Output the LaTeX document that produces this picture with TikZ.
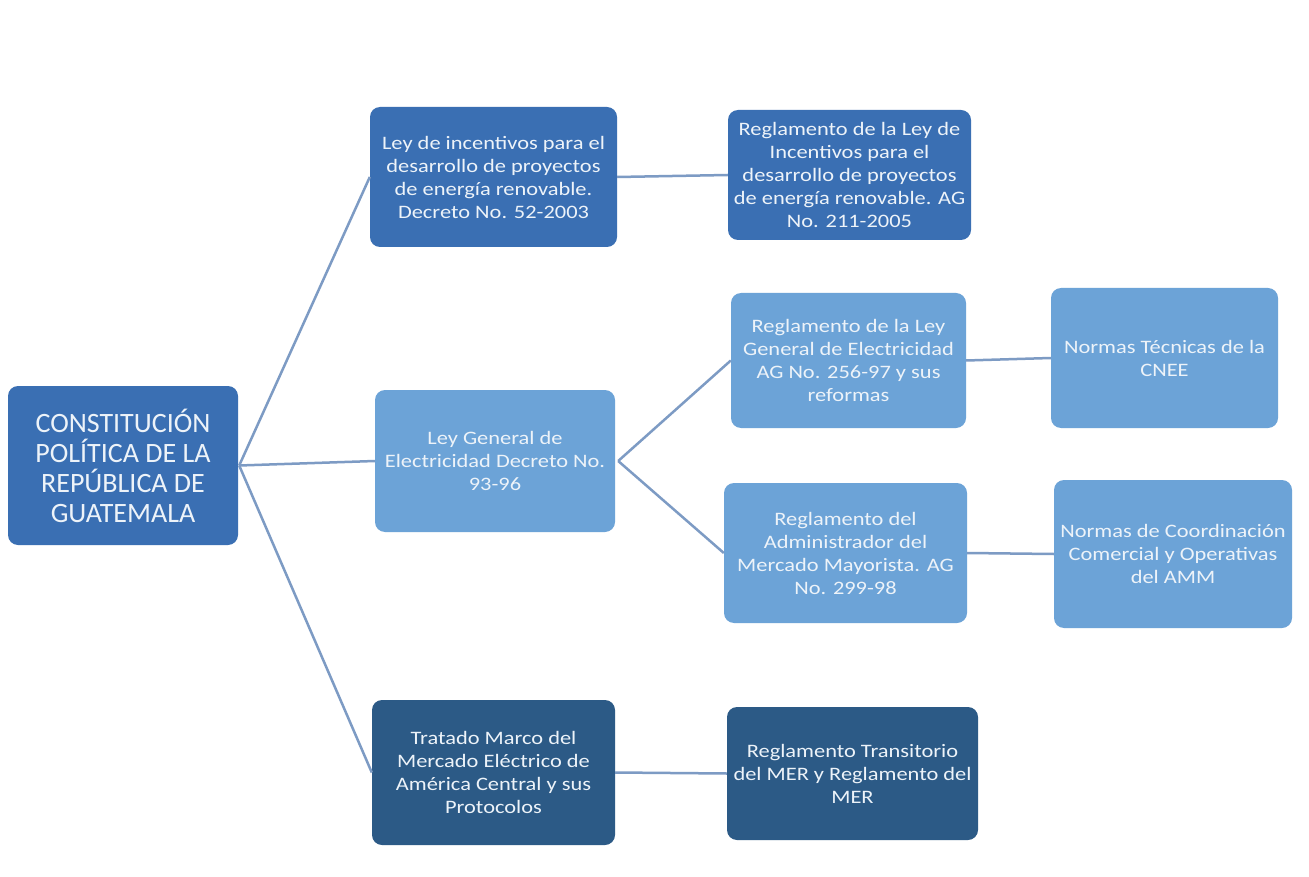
\documentclass[tikz,border=0pt]{standalone}
\usepackage{fontspec}
\setmainfont{Carlito}
\newfontfamily\boxfont[FakeStretch=1.18]{Carlito}
\definecolor{midblue}{HTML}{3A6FB3}
\definecolor{lightblue}{HTML}{6CA3D7}
\definecolor{darkblue}{HTML}{2C5A86}
\definecolor{linecol}{HTML}{7D9BC4}
\definecolor{txt}{HTML}{EDF3F9}
\begin{document}
\begin{tikzpicture}[x=1pt,y=-1pt,
  box/.style={rounded corners=10pt, text=txt, align=center, inner sep=1pt,
    font=\boxfont\fontsize{19}{23}\selectfont},
  conn/.style={draw=linecol, line width=2.5pt}]
\useasboundingbox[fill=white] (0,0) rectangle (1309,877);
\node[box, fill=midblue, minimum width=230pt, minimum height=159pt, font=\fontsize{28}{30}\selectfont] (root) at (123,465.5)
  {CONSTITUCIÓN\\POLÍTICA DE LA\\REPÚBLICA DE\\GUATEMALA};
\node[box, fill=midblue, minimum width=247pt, minimum height=140pt] (leyinc) at (493.5,177)
  {Ley de incentivos para el\\desarrollo de proyectos\\de energía renovable.\\Decreto No. 52-2003};
\node[box, fill=midblue, minimum width=243pt, minimum height=130pt] (reginc) at (849.5,175)
  {Reglamento de la Ley de\\Incentivos para el\\desarrollo de proyectos\\de energía renovable. AG\\No. 211-2005};
\node[box, fill=lightblue, minimum width=240pt, minimum height=142pt] (leygen) at (495,461)
  {Ley General de\\Electricidad Decreto No.\\93-96};
\node[box, fill=lightblue, minimum width=235pt, minimum height=135pt] (reglge) at (848.5,360.5)
  {Reglamento de la Ley\\General de Electricidad\\AG No. 256-97 y sus\\reformas};
\node[box, fill=lightblue, minimum width=227pt, minimum height=140pt] (normt) at (1164.5,358)
  {Normas Técnicas de la\\CNEE};
\node[box, fill=lightblue, minimum width=243pt, minimum height=140pt] (regamm) at (845.5,553)
  {Reglamento del\\Administrador del\\Mercado Mayorista. AG\\No. 299-98};
\node[box, fill=lightblue, minimum width=238pt, minimum height=148pt] (normc) at (1173,554)
  {Normas de Coordinación\\Comercial y Operativas\\del AMM};
\node[box, fill=darkblue, minimum width=243pt, minimum height=145pt] (tratado) at (493.5,772.5)
  {Tratado Marco del\\Mercado Eléctrico de\\América Central y sus\\Protocolos};
\node[box, fill=darkblue, minimum width=251pt, minimum height=133pt] (regmer) at (852.5,773.5)
  {Reglamento Transitorio\\del MER y Reglamento del\\MER};
\draw[conn] ([xshift=1pt]root.east) -- (leyinc.west);
\draw[conn] ([xshift=1pt]root.east) -- (leygen.west);
\draw[conn] ([xshift=1pt]root.east) -- (tratado.west);
\draw[conn] (leyinc.east) -- (reginc.west);
\draw[conn] ([xshift=3pt]leygen.east) -- (reglge.west);
\draw[conn] ([xshift=3pt]leygen.east) -- (regamm.west);
\draw[conn] (reglge.east) -- (normt.west);
\draw[conn] (regamm.east) -- (normc.west);
\draw[conn] (tratado.east) -- (regmer.west);
\end{tikzpicture}
\end{document}
